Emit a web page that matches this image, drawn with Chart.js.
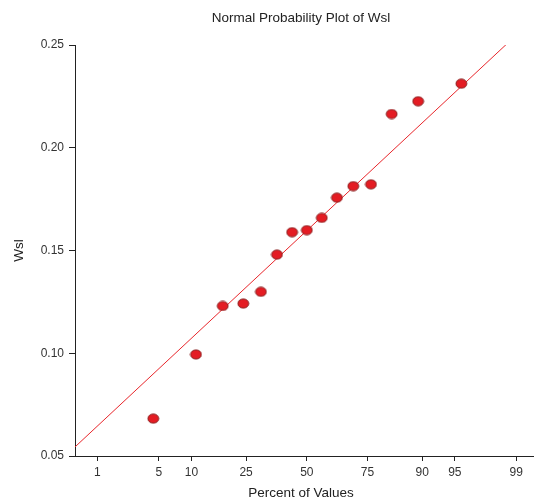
<!DOCTYPE html>
<html lang="es">
<head>
<meta charset="utf-8">
<title>Normal Probability Plot of Wsl</title>
<script src="https://cdn.jsdelivr.net/npm/chart.js@4/dist/chart.umd.min.js"></script>
<style>
    html, body { margin: 0; padding: 0; background: #fff; overflow: hidden; }
    #contenedor { width: 534px; height: 501px; }
</style>
</head>
<body>
<div id="contenedor"><canvas id="grafico"></canvas></div>
<script>
// Datos (porcentaje acumulado y valor de Wsl).
const PERCENTS = [4.4, 10.9, 17.5, 24.0, 30.5, 37.0, 43.5, 50.0, 56.6, 63.1, 69.7, 76.2, 82.7, 89.2, 95.7];
const WSL_VALUES = [0.0682, 0.0994, 0.1230, 0.1242, 0.1299, 0.1480, 0.1589, 0.1599, 0.1659, 0.1757, 0.1813, 0.1822, 0.2164, 0.2226, 0.2312];
// Extremos de la recta de referencia.
const FIT_PERCENTS = [0.5, 99.5];
const FIT_VALUES = [0.0544, 0.2650];
// Marcas de los ejes.
const TICK_PERCENTS = [1, 5, 10, 25, 50, 75, 90, 95, 99];
const TICK_LABELS = ['1', '5', '10', '25', '50', '75', '90', '95', '99'];
const Y_TICKS = [0.05, 0.10, 0.15, 0.20, 0.25];
const X_RANGE = [0.5, 99.42];
// Textos.
const TITLE = 'Normal Probability Plot of Wsl';
const X_TITLE = 'Percent of Values';
const Y_TITLE = 'Wsl';

const FUENTE = '"Liberation Sans", Arial, sans-serif';

/*
*   Función para obtener el cuantil de la normal estándar (algoritmo de Acklam).
*   Parámetros: p (probabilidad entre 0 y 1).
*   Retorno: valor z.
*/
const probit = (p) => {
    const a = [-3.969683028665376e+01, 2.209460984245205e+02, -2.759285104469687e+02, 1.383577518672690e+02, -3.066479806614716e+01, 2.506628277459239e+00];
    const b = [-5.447609879822406e+01, 1.615858368580409e+02, -1.556989798598866e+02, 6.680131188771972e+01, -1.328068155288572e+01];
    const c = [-7.784894002430293e-03, -3.223964580411365e-01, -2.400758277161838e+00, -2.549732539343734e+00, 4.374664141464968e+00, 2.938163982698783e+00];
    const d = [7.784695709041462e-03, 3.224671290700398e-01, 2.445134137142996e+00, 3.754408661907416e+00];
    const pLow = 0.02425;
    let q, r;
    if (p < pLow) {
        q = Math.sqrt(-2 * Math.log(p));
        return (((((c[0] * q + c[1]) * q + c[2]) * q + c[3]) * q + c[4]) * q + c[5]) / ((((d[0] * q + d[1]) * q + d[2]) * q + d[3]) * q + 1);
    }
    if (p <= 1 - pLow) {
        q = p - 0.5;
        r = q * q;
        return (((((a[0] * r + a[1]) * r + a[2]) * r + a[3]) * r + a[4]) * r + a[5]) * q / (((((b[0] * r + b[1]) * r + b[2]) * r + b[3]) * r + b[4]) * r + 1);
    }
    q = Math.sqrt(-2 * Math.log(1 - p));
    return -(((((c[0] * q + c[1]) * q + c[2]) * q + c[3]) * q + c[4]) * q + c[5]) / ((((d[0] * q + d[1]) * q + d[2]) * q + d[3]) * q + 1);
};

// Convierte porcentaje a posición en la escala normal.
const toZ = (pct) => probit(pct / 100);

/*
*   Función para crear el marcador elíptico rojo de los puntos.
*/
const crearMarcador = () => {
    const lienzo = document.createElement('canvas');
    lienzo.width = 13;
    lienzo.height = 11;
    const ctx = lienzo.getContext('2d');
    ctx.beginPath();
    ctx.ellipse(6.5, 5.5, 5.4, 4.6, 0, 0, Math.PI * 2);
    ctx.fillStyle = '#e41c23';
    ctx.fill();
    ctx.lineWidth = 1;
    ctx.strokeStyle = '#861c1c';
    ctx.stroke();
    return lienzo;
};

// Plugin para dibujar el título y los títulos de los ejes.
const textosPlugin = {
    id: 'textos',
    afterDraw: (chart) => {
        const { ctx, chartArea } = chart;
        const centroX = chartArea.left + 226;
        ctx.save();
        ctx.fillStyle = '#222';
        ctx.font = '13.5px ' + FUENTE;
        ctx.textAlign = 'center';
        ctx.textBaseline = 'alphabetic';
        ctx.fillText(TITLE, centroX, 22);
        ctx.fillText(X_TITLE, centroX, 497);
        ctx.translate(23, (chartArea.top + chartArea.bottom) / 2);
        ctx.rotate(-Math.PI / 2);
        ctx.fillText(Y_TITLE, 0, 0);
        ctx.restore();
    }
};

const puntos = PERCENTS.map((p, i) => ({ x: toZ(p), y: WSL_VALUES[i] }));
const recta = FIT_PERCENTS.map((p, i) => ({ x: toZ(p), y: FIT_VALUES[i] }));

const ejeComun = {
    grid: { drawOnChartArea: false, drawTicks: true, color: '#222' },
    border: { display: true, color: '#222', width: 1 }
};

new Chart(document.getElementById('grafico'), {
    type: 'scatter',
    data: {
        datasets: [{
            label: 'Wsl',
            data: puntos,
            pointStyle: crearMarcador(),
            pointRadius: 5,
            order: 0
        }, {
            label: 'Recta',
            data: recta,
            showLine: true,
            borderColor: '#e8262b',
            borderWidth: 1,
            pointRadius: 0,
            order: 1
        }]
    },
    options: {
        responsive: true,
        maintainAspectRatio: false,
        animation: false,
        events: [],
        layout: {
            autoPadding: false,   // Evita el relleno extra por el radio de los puntos.
            padding: { top: 45, left: 0, right: 0, bottom: 0 }
        },
        plugins: {
            legend: { display: false },
            tooltip: { enabled: false },
            title: { display: false }
        },
        scales: {
            x: {
                type: 'linear',
                min: toZ(X_RANGE[0]),
                max: toZ(X_RANGE[1]),
                afterBuildTicks: (scale) => {
                    scale.ticks = TICK_PERCENTS.map(p => ({ value: toZ(p) }));
                },
                afterFit: (scale) => {
                    // Se fija la altura del eje y se anula el relleno lateral automático.
                    scale.height = 45;
                    scale.paddingLeft = 0;
                    scale.paddingRight = 0;
                },
                ticks: {
                    autoSkip: false,
                    maxRotation: 0,
                    padding: 4,
                    color: '#333',
                    font: { family: FUENTE, size: 12 },
                    callback: (value, index) => TICK_LABELS[index]
                },
                grid: { ...ejeComun.grid, tickLength: 5 },
                border: ejeComun.border
            },
            y: {
                type: 'linear',
                min: Y_TICKS[0],
                max: Y_TICKS[Y_TICKS.length - 1],
                afterBuildTicks: (scale) => {
                    scale.ticks = Y_TICKS.map(v => ({ value: v }));
                },
                afterFit: (scale) => {
                    scale.width = 75;
                    scale.paddingTop = 0;
                    scale.paddingBottom = 0;
                },
                ticks: {
                    padding: 5,
                    color: '#333',
                    font: { family: FUENTE, size: 12 },
                    callback: (value) => value.toFixed(2)
                },
                grid: { ...ejeComun.grid, tickLength: 6 },
                border: ejeComun.border
            }
        }
    },
    plugins: [textosPlugin]
});
</script>
</body>
</html>
